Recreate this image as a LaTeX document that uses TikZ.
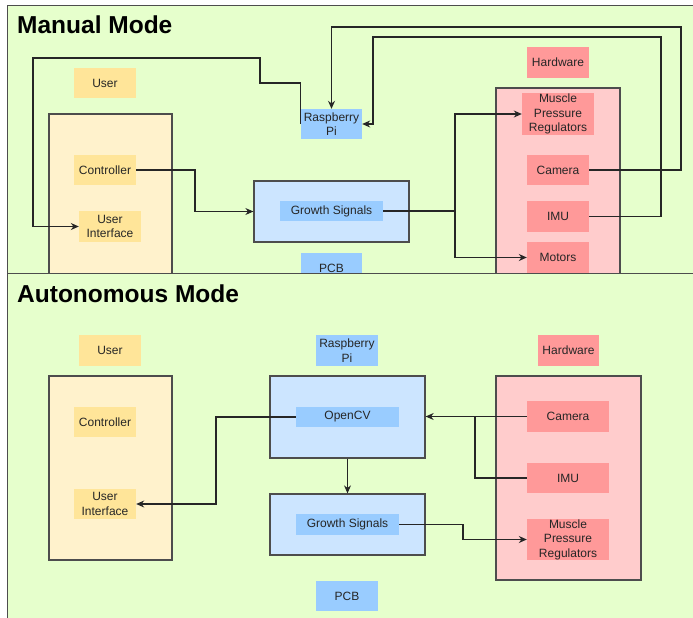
\documentclass[tikz,border=0pt]{standalone}
\usepackage{fontspec}
\setmainfont{Liberation Sans}
\usepackage{xcolor}
\usepackage{tikz}
\usetikzlibrary{positioning, arrows.meta, calc}

\definecolor{panelfill}{HTML}{E6FFCC}
\definecolor{userfill}{HTML}{FFE599}
\definecolor{userbox}{HTML}{FFF2CC}
\definecolor{pifill}{HTML}{99CCFF}
\definecolor{pibox}{HTML}{CCE5FF}
\definecolor{hwfill}{HTML}{FF9999}
\definecolor{hwbox}{HTML}{FFCCCC}
\definecolor{edgegray}{HTML}{4D4D4D}

\begin{document}
\begin{tikzpicture}[
      x=1pt, y=-1pt,
      lbl/.style={rectangle, inner sep=0pt, align=center, text=black!85,
        font=\fontsize{12}{14.5}\selectfont},
      box/.style={rectangle, draw=edgegray, line width=1.3pt, inner sep=0pt},
      title/.style={anchor=base west, inner sep=0pt, font=\fontsize{24.5}{28}\selectfont\bfseries},
      conn/.style={draw=black!85, line width=1.1pt},
      arr/.style={conn, -{Stealth[length=8pt, width=7pt]}}
    ]
      \useasboundingbox (0,0) rectangle (693,618);

      % manual mode
      \fill[panelfill] (7,6) rectangle (693,273);
      \draw[edgegray, line width=1pt] (693,6) -- (7,6) -- (7,273);
      \node[title] (manual) at (17,34) {Manual Mode};

      \node[lbl, fill=userfill, minimum width=62pt, minimum height=30pt] (user1) at (105,83) {User};
      \node[box, fill=userbox, minimum width=123pt, minimum height=176pt] (ucont1) at (110.5,202) {};
      \node[lbl, fill=userfill, minimum width=62pt, minimum height=30pt] (ctl1) at (105,170) {Controller};
      \node[lbl, fill=userfill, minimum width=62pt, minimum height=31pt] (ui1) at (110,226.5) {User\\Interface};

      \node[lbl, fill=pifill, minimum width=61pt, minimum height=30pt] (rpi1) at (331.5,124) {Raspberry\\Pi};
      \node[box, fill=pibox, minimum width=155pt, minimum height=61pt] (gsbox1) at (331.5,211.5) {};
      \node[lbl, fill=pifill, minimum width=103pt, minimum height=20pt] (gs1) at (331.5,211) {Growth Signals};
      \node[lbl, fill=pifill, minimum width=61pt, minimum height=30pt] (pcb1) at (331.5,268) {PCB};

      \node[lbl, fill=hwfill, minimum width=62pt, minimum height=31pt] (hw1) at (558,62.5) {Hardware};
      \node[box, fill=hwbox, minimum width=124pt, minimum height=202pt] (hwcont1) at (558,189) {};
      \node[lbl, fill=hwfill, minimum width=72pt, minimum height=42pt] (mpr1) at (558,114) {Muscle\\Pressure\\Regulators};
      \node[lbl, fill=hwfill, minimum width=62pt, minimum height=30pt] (cam1) at (558,170) {Camera};
      \node[lbl, fill=hwfill, minimum width=62pt, minimum height=31pt] (imu1) at (558,216.5) {IMU};
      \node[lbl, fill=hwfill, minimum width=62pt, minimum height=31pt] (mot1) at (558,257.5) {Motors};

      \draw[arr] (rpi1.west) |- (260,83) |- (33,58) |- (ui1.west);
      \draw[arr] (cam1.east) -| (681,27) -| (rpi1.north);
      \draw[arr] (imu1.east) -| (661,37) -| (373,124) -- (rpi1.east);
      \draw[conn] (gs1.east) -- (455,211);
      \draw[arr] (455,211) |- (mpr1.west);
      \draw[arr] (455,211) |- (mot1.west);
      \draw[arr] (ctl1.east) -| (195,211.5) -- (gsbox1.west);

      % autonomous mode
      \fill[panelfill] (7,273) rectangle (693,618);
      \draw[edgegray, line width=1pt] (693,273) -- (7,273) -- (7,618);
      \node[title] (auto) at (17,302) {Autonomous Mode};

      \node[lbl, fill=userfill, minimum width=62pt, minimum height=31pt] (user2) at (110,350.5) {User};
      \node[box, fill=userbox, minimum width=123pt, minimum height=184pt] (ucont2) at (110.5,468) {};
      \node[lbl, fill=userfill, minimum width=62pt, minimum height=30pt] (ctl2) at (105,422) {Controller};
      \node[lbl, fill=userfill, minimum width=62pt, minimum height=30pt] (ui2) at (105,504) {User\\Interface};

      \node[lbl, fill=pifill, minimum width=62pt, minimum height=31pt] (rpi2) at (347,350.5) {Raspberry\\Pi};
      \node[box, fill=pibox, minimum width=155pt, minimum height=82pt] (ocvbox) at (347.5,417) {};
      \node[lbl, fill=pifill, minimum width=103pt, minimum height=20pt] (ocv2) at (347.5,417) {OpenCV};
      \node[box, fill=pibox, minimum width=155pt, minimum height=61pt] (gsbox2) at (347.5,524.5) {};
      \node[lbl, fill=pifill, minimum width=103pt, minimum height=21pt] (gs2) at (347.5,524.5) {Growth Signals};
      \node[lbl, fill=pifill, minimum width=62pt, minimum height=30pt] (pcb2) at (347,596) {PCB};

      \node[lbl, fill=hwfill, minimum width=61pt, minimum height=31pt] (hw2) at (568.5,350.5) {Hardware};
      \node[box, fill=hwbox, minimum width=145pt, minimum height=204pt] (hwcont2) at (568.5,478) {};
      \node[lbl, fill=hwfill, minimum width=82pt, minimum height=31pt] (cam2) at (568,416.5) {Camera};
      \node[lbl, fill=hwfill, minimum width=82pt, minimum height=30pt] (imu2) at (568,478) {IMU};
      \node[lbl, fill=hwfill, minimum width=82pt, minimum height=41pt] (mpr2) at (568,539.5) {Muscle\\Pressure\\Regulators};

      \draw[arr] (cam2.west) -- (cam2.west -| ocvbox.east);
      \draw[conn] (imu2.west) -| (475,416.5);
      \draw[arr] (gs2.east) -| (463,539.5) -- (mpr2.west);
      \draw[arr] (ocv2.west) -| (216,504) -- (ui2.east);
      \draw[arr] (ocvbox.south) -- (gsbox2.north);
    \end{tikzpicture}
\end{document}
